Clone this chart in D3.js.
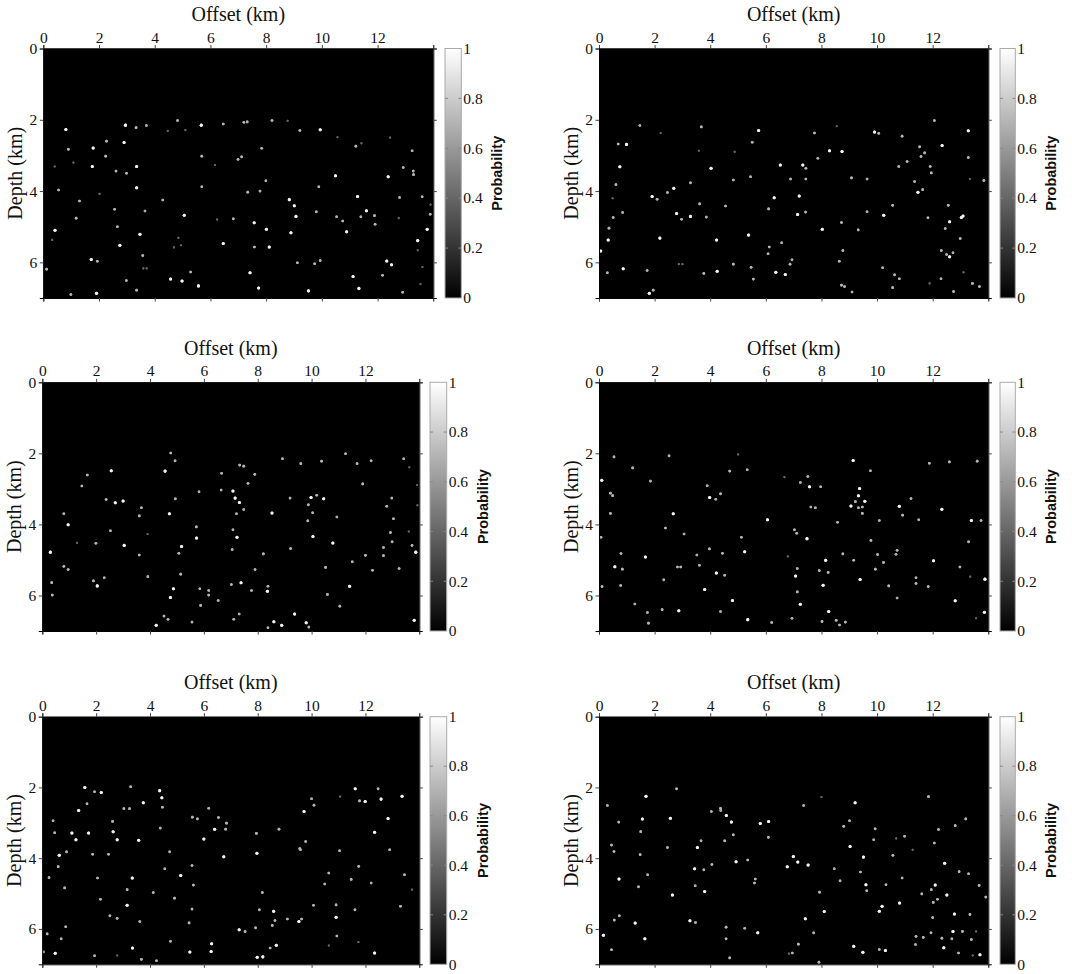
<!DOCTYPE html>
<html>
<head>
<meta charset="utf-8">
<script src="https://cdn.jsdelivr.net/npm/d3@7"></script>
<style>
  html, body { margin: 0; padding: 0; background: #fff; }
  svg { display: block; }
</style>
</head>
<body>
<div id="chart"></div>
<script>
// ---------------- DATA ----------------
const xTicks = [0, 2, 4, 6, 8, 10, 12];
const yTicks = [0, 2, 4, 6];
const cbTicks = [0, 0.2, 0.4, 0.6, 0.8, 1];
const xTitle = "Offset (km)";
const yTitle = "Depth (km)";
const cbTitle = "Probability";

// each dot: [offset km, depth km, probability]
const panel1Dots = [
[0.81,2.27,0.95],[2.95,2.15,0.95],[3.33,2.22,0.7],[3.70,2.16,0.7],[4.82,2.02,0.7],[5.67,2.15,0.95],[6.46,2.12,0.7],[7.20,2.07,0.7],[7.32,2.06,0.7],[8.21,2.02,0.7],[8.77,2.03,0.4],[9.21,2.30,0.7],[9.94,2.28,0.95],
[0.90,2.83,0.7],[1.79,2.79,0.95],[2.27,2.60,0.7],[2.90,2.64,0.95],[2.24,3.02,0.7],[1.76,3.31,0.95],[3.35,3.31,0.95],[2.61,3.44,0.7],[2.99,3.50,0.7],[3.35,3.91,0.95],[0.55,3.97,0.7],[2.02,4.08,0.4],[1.30,4.28,0.7],[1.18,4.76,0.7],[0.42,5.10,0.95],[2.56,4.51,0.7],[2.66,5.00,0.7],[3.65,4.56,0.7],[3.47,5.21,0.95],[2.75,5.52,0.95],[4.29,4.25,0.7],[5.06,4.68,0.95],[5.69,3.02,0.7],[5.69,3.88,0.7],[6.16,3.27,0.4],[6.99,3.11,0.7],[7.12,3.04,0.7],[7.84,2.80,0.7],[7.34,4.03,0.7],[7.78,4.00,0.7],[7.99,3.71,0.7],[6.46,5.47,0.95],[6.82,4.78,0.7],[6.24,4.80,0.4],[7.57,4.89,0.95],[8.01,5.07,0.95],[8.11,5.57,0.95],[7.58,5.57,0.7],[8.83,4.24,0.95],[9.01,4.41,0.95],[9.07,4.71,0.95],[8.89,5.17,0.95],[9.89,3.88,0.7],[9.80,4.58,0.7],[10.49,3.57,0.95],[10.53,4.72,0.7],[10.75,4.84,0.7],[10.89,5.14,0.95],[11.28,4.15,0.95],[11.60,4.55,0.95],[11.40,4.72,0.7],[11.89,4.69,0.7],[11.91,4.93,0.7],[12.38,3.60,0.95],[12.92,3.34,0.7],[13.28,3.44,0.7],[13.29,3.54,0.7],[13.24,2.87,0.7],[12.79,4.18,0.7],[13.60,4.16,0.7],[13.89,4.65,0.7],[13.78,5.07,0.95],[13.44,5.39,0.95],[12.76,4.76,0.4],[11.22,2.74,0.7],[11.42,2.66,0.4],[12.45,2.50,0.4],[10.56,2.49,0.4],
[1.72,5.92,0.95],[1.94,5.97,0.7],[0.12,6.19,0.7],[0.99,6.90,0.7],[1.91,6.87,0.95],[2.98,6.51,0.7],[3.35,6.78,0.7],[3.57,5.81,0.7],[4.57,6.47,0.95],[4.98,6.52,0.95],[5.29,6.27,0.7],[5.57,6.66,0.95],[7.42,6.29,0.95],[7.73,6.72,0.95],[9.12,6.01,0.7],[9.52,6.80,0.95],[9.74,6.04,0.7],[9.94,5.95,0.7],[11.12,6.40,0.95],[11.33,6.73,0.95],[12.18,6.36,0.7],[12.33,5.96,0.95],[12.50,6.07,0.95],[12.90,6.84,0.7],[13.54,6.61,0.4],[4.69,5.58,0.4],[4.94,5.52,0.4],[4.85,5.31,0.4],[5.10,2.29,0.4],[4.47,2.31,0.4],[0.41,3.31,0.4],[1.08,3.20,0.4],[13.44,5.66,0.4],[13.61,6.13,0.4],[13.90,4.38,0.4],[0.32,5.37,0.4],[3.59,6.17,0.4],[3.71,6.17,0.4]
];

const panel2Dots = [
[1.47,2.16,0.7],[2.22,2.37,0.4],[3.68,2.20,0.7],[5.74,2.30,0.95],[5.51,2.63,0.7],[0.69,2.68,0.7],[0.99,2.69,0.95],[3.59,2.87,0.4],[0.75,3.32,0.95],[0.61,3.82,0.7],[0.49,4.20,0.4],[0.51,4.74,0.7],[0.36,5.04,0.7],[0.33,5.37,0.95],[0.06,5.68,0.95],[0.30,6.29,0.7],[0.87,6.18,0.95],[0.85,4.60,0.7],[1.91,4.15,0.95],[2.09,4.23,0.7],[2.19,5.32,0.95],[2.46,4.04,0.7],[2.69,3.92,0.95],[2.79,4.63,0.95],[2.97,4.79,0.7],[3.29,4.71,0.95],[3.29,3.77,0.7],[3.62,4.36,0.7],[3.86,4.73,0.7],[4.03,3.36,0.95],[4.83,3.69,0.7],[4.55,4.42,0.7],[4.23,5.37,0.95],[4.25,6.25,0.95],[3.77,6.31,0.7],[4.83,6.05,0.7],[5.38,5.23,0.95],[5.45,3.60,0.7],[5.47,6.14,0.7],[5.55,6.47,0.7],[6.30,4.19,0.95],[6.10,4.50,0.7],[6.12,5.57,0.7],[6.08,5.76,0.7],[6.52,3.27,0.95],[6.57,5.45,0.7],[6.36,6.28,0.95],[6.70,6.34,0.95],[6.89,3.66,0.7],[6.94,5.93,0.7],[6.87,6.05,0.7],[7.14,4.66,0.95],[7.20,4.14,0.95],[7.33,3.27,0.95],[7.44,3.36,0.7],[7.44,3.66,0.7],[7.43,4.59,0.7],[7.75,2.37,0.7],[7.87,3.08,0.7],[8.03,5.07,0.95],[8.29,2.87,0.95],[8.74,2.89,0.95],[9.08,3.63,0.7],[8.72,4.88,0.7],[8.77,5.67,0.7],[8.64,5.97,0.7],[8.72,6.64,0.7],[8.83,6.68,0.7],[9.10,6.83,0.7],[9.32,5.09,0.7],[9.64,3.66,0.7],[9.64,4.58,0.7],[9.91,2.34,0.95],[10.06,2.38,0.7],[10.24,4.68,0.95],[10.20,6.15,0.7],[10.56,4.40,0.7],[10.63,6.35,0.7],[10.80,6.46,0.7],[10.56,6.71,0.7],[10.78,3.31,0.7],[10.90,2.46,0.7],[11.08,3.17,0.7],[11.35,3.73,0.7],[11.47,4.03,0.95],[11.64,3.96,0.7],[11.53,2.76,0.7],[11.58,3.03,0.7],[11.71,2.93,0.7],[11.91,3.31,0.7],[11.95,3.49,0.7],[11.83,4.75,0.7],[12.06,2.02,0.7],[12.34,2.72,0.95],[12.56,4.40,0.7],[12.61,4.86,0.95],[12.45,5.05,0.7],[12.31,5.67,0.7],[12.50,5.78,0.7],[12.61,5.84,0.95],[12.73,5.73,0.7],[12.99,5.33,0.7],[13.03,4.74,0.95],[13.09,4.70,0.95],[13.28,2.31,0.95],[13.28,3.06,0.7],[13.34,3.66,0.4],[13.84,3.70,0.7],[13.43,6.59,0.7],[13.68,6.68,0.7],[12.75,6.82,0.7],[12.30,6.46,0.7],[11.89,6.59,0.4],[1.95,6.78,0.7],[1.81,6.87,0.95],[1.73,6.23,0.7],[2.87,6.05,0.4],[3.00,6.05,0.4],[8.55,2.18,0.4],[4.88,2.90,0.4],[13.11,6.28,0.4]
];

const panel3Dots = [
[4.77,1.99,0.7],[4.93,2.21,0.7],[2.56,2.49,0.95],[1.67,2.61,0.7],[1.47,2.92,0.7],[4.56,2.50,0.95],[6.66,2.56,0.7],[7.33,2.33,0.7],[7.48,2.36,0.7],[7.89,2.59,0.7],[7.64,2.84,0.7],[8.92,2.15,0.7],[9.60,2.29,0.7],[10.37,2.22,0.7],[11.26,2.01,0.7],[11.69,2.29,0.7],[12.21,2.21,0.7],[11.90,2.86,0.7],[13.42,2.15,0.7],[13.63,2.39,0.4],[13.92,2.89,0.4],[2.37,3.30,0.7],[2.71,3.39,0.95],[3.00,3.34,0.95],[3.68,3.53,0.7],[3.60,3.76,0.7],[2.53,4.18,0.7],[0.80,3.70,0.7],[0.96,4.01,0.95],[1.99,4.53,0.7],[3.04,4.59,0.95],[3.60,4.86,0.7],[0.30,4.78,0.95],[0.80,5.18,0.7],[0.96,5.27,0.7],[0.35,5.64,0.7],[0.37,5.99,0.7],[1.90,5.59,0.7],[2.04,5.73,0.95],[2.30,5.50,0.7],[3.92,5.47,0.7],[4.94,3.28,0.7],[4.72,3.70,0.95],[5.82,3.08,0.7],[5.72,4.07,0.7],[5.73,4.38,0.95],[5.17,4.62,0.95],[5.07,4.81,0.7],[5.14,5.40,0.7],[4.87,5.81,0.95],[4.76,6.06,0.95],[5.85,5.81,0.7],[6.18,5.86,0.7],[6.18,5.99,0.7],[5.88,6.28,0.7],[6.53,6.14,0.7],[6.64,3.03,0.7],[7.08,3.06,0.95],[7.16,3.26,0.95],[7.32,3.38,0.95],[7.21,3.70,0.7],[7.48,3.58,0.7],[7.08,4.15,0.7],[7.23,4.36,0.95],[7.05,4.71,0.7],[7.38,5.64,0.95],[7.02,5.69,0.7],[7.77,5.86,0.7],[7.90,5.27,0.7],[8.21,4.83,0.7],[8.53,3.68,0.95],[8.38,5.74,0.7],[8.36,5.88,0.95],[9.20,3.26,0.7],[9.22,4.68,0.7],[9.98,3.24,0.95],[10.19,3.18,0.7],[10.45,3.28,0.95],[9.88,3.45,0.7],[10.04,3.67,0.7],[9.86,3.90,0.7],[10.05,4.34,0.95],[10.79,4.52,0.95],[10.94,3.79,0.7],[10.52,5.21,0.7],[11.51,5.05,0.7],[12.00,4.87,0.7],[12.26,5.29,0.7],[11.41,5.74,0.95],[10.59,5.97,0.7],[11.05,6.30,0.7],[12.79,3.49,0.7],[12.98,3.26,0.7],[13.04,3.84,0.7],[12.93,4.23,0.7],[12.99,4.49,0.7],[12.67,4.65,0.7],[12.67,4.88,0.7],[13.25,5.24,0.7],[13.73,4.59,0.7],[13.87,4.78,0.95],[13.81,6.70,0.95],[9.80,6.77,0.95],[9.90,6.89,0.7],[9.37,6.52,0.95],[8.89,6.84,0.95],[8.60,6.74,0.95],[8.38,6.91,0.7],[7.31,6.52,0.7],[7.11,6.67,0.7],[5.56,6.75,0.7],[4.52,6.58,0.7],[4.67,6.67,0.7],[4.23,6.84,0.95],[13.93,3.46,0.4],[13.61,4.20,0.4],[3.91,4.27,0.4],[1.29,4.52,0.4]
];

const panel4Dots = [
[0.10,2.76,0.95],[0.54,2.10,0.7],[0.41,3.12,0.7],[0.49,3.19,0.7],[0.41,3.69,0.7],[0.07,4.36,0.7],[0.79,4.82,0.7],[0.57,5.19,0.95],[0.84,5.26,0.7],[0.11,5.75,0.7],[0.78,5.72,0.7],[1.21,2.41,0.7],[1.85,2.78,0.7],[2.52,2.07,0.7],[2.67,3.70,0.95],[2.39,4.10,0.7],[3.06,4.27,0.7],[1.67,4.92,0.95],[2.82,5.20,0.7],[2.94,5.20,0.7],[2.33,5.56,0.7],[1.29,6.24,0.7],[1.74,6.48,0.7],[1.78,6.78,0.7],[2.27,6.40,0.7],[2.87,6.43,0.95],[3.89,2.91,0.7],[3.98,3.24,0.95],[4.20,3.29,0.7],[4.37,3.14,0.7],[4.70,2.50,0.7],[5.33,2.46,0.7],[5.00,2.03,0.4],[3.52,4.86,0.7],[3.61,5.15,0.7],[3.97,4.69,0.7],[4.44,4.81,0.7],[4.22,5.37,0.95],[4.52,5.43,0.7],[3.80,5.83,0.95],[4.80,6.14,0.95],[4.37,6.45,0.7],[5.35,6.68,0.95],[5.12,4.36,0.7],[5.24,4.77,0.95],[6.06,3.87,0.95],[6.21,6.76,0.7],[6.94,6.64,0.7],[7.03,4.15,0.7],[7.11,4.25,0.7],[7.48,4.40,0.95],[7.13,5.24,0.7],[7.07,5.45,0.95],[7.13,5.90,0.7],[7.24,6.25,0.95],[7.24,2.82,0.7],[7.51,2.65,0.7],[7.57,2.94,0.95],[7.62,3.51,0.7],[7.78,3.53,0.7],[7.97,2.94,0.7],[8.15,5.01,0.95],[7.92,5.30,0.7],[8.24,5.35,0.7],[8.06,5.71,0.95],[8.26,6.45,0.95],[8.02,6.73,0.7],[8.53,6.70,0.7],[8.65,6.83,0.7],[8.86,6.75,0.7],[8.58,3.94,0.7],[8.77,4.83,0.7],[9.14,2.20,0.95],[9.06,3.48,0.95],[9.22,3.36,0.7],[9.33,3.19,0.95],[9.37,2.99,0.95],[9.33,3.53,0.7],[9.47,3.51,0.7],[9.56,3.35,0.95],[9.47,3.69,0.7],[9.16,5.01,0.7],[9.39,5.55,0.95],[9.76,2.49,0.7],[9.78,4.45,0.7],[9.94,5.26,0.7],[10.02,4.85,0.7],[10.08,3.89,0.7],[10.23,5.07,0.7],[10.80,3.49,0.95],[10.92,3.74,0.7],[10.68,4.84,0.7],[10.72,4.73,0.7],[10.42,5.73,0.7],[10.72,6.07,0.7],[11.22,3.27,0.7],[11.50,3.87,0.7],[11.40,5.50,0.7],[11.40,5.66,0.7],[11.84,5.75,0.7],[11.88,2.28,0.7],[12.33,3.57,0.95],[12.03,5.02,0.95],[12.60,2.24,0.7],[12.98,5.20,0.7],[12.81,6.15,0.95],[13.29,4.49,0.7],[13.39,3.89,0.95],[13.74,3.89,0.7],[13.60,2.22,0.7],[13.88,5.54,0.95],[13.86,6.47,0.95],[13.56,6.64,0.4],[13.35,5.47,0.4],[6.79,4.90,0.4],[6.67,2.67,0.4]
];

const panel5Dots = [
[1.58,2.00,0.95],[1.94,2.12,0.7],[2.19,2.14,0.95],[3.28,1.98,0.7],[4.36,2.09,0.95],[4.44,2.29,0.95],[4.46,2.56,0.7],[3.75,2.43,0.95],[1.66,2.46,0.7],[1.35,2.65,0.95],[3.03,2.60,0.7],[3.24,2.60,0.7],[2.61,2.96,0.7],[2.63,3.25,0.95],[2.78,3.48,0.95],[1.10,3.29,0.95],[1.25,3.48,0.95],[1.72,3.29,0.95],[0.46,3.28,0.7],[0.40,2.94,0.7],[0.63,3.92,0.95],[0.59,4.24,0.7],[0.25,4.55,0.7],[0.90,3.82,0.7],[0.83,4.84,0.7],[1.87,3.89,0.7],[2.46,3.89,0.7],[2.05,4.56,0.7],[2.16,5.16,0.7],[3.58,3.49,0.95],[3.34,4.56,0.95],[3.15,4.89,0.7],[3.15,5.33,0.95],[2.51,5.63,0.7],[2.78,5.70,0.7],[3.62,5.79,0.7],[0.87,5.94,0.7],[0.18,6.14,0.7],[0.70,6.28,0.7],[0.48,6.69,0.95],[0.04,6.65,0.7],[1.94,6.76,0.7],[2.78,6.75,0.4],[3.35,6.54,0.95],[3.68,6.86,0.7],[4.24,6.90,0.7],[4.12,4.97,0.7],[4.38,3.15,0.7],[4.55,4.30,0.7],[4.73,3.82,0.7],[4.91,5.13,0.7],[5.14,4.49,0.95],[4.76,6.35,0.7],[5.48,6.65,0.95],[5.45,5.83,0.7],[5.56,5.44,0.7],[5.61,4.76,0.7],[5.56,4.21,0.7],[6.00,3.46,0.95],[5.57,2.84,0.7],[5.76,2.89,0.7],[6.18,2.59,0.7],[6.40,3.18,0.95],[6.54,2.85,0.7],[6.84,3.01,0.7],[6.81,3.18,0.7],[6.74,3.96,0.95],[6.29,6.42,0.95],[6.27,6.64,0.95],[7.31,6.02,0.95],[7.53,6.07,0.7],[7.95,3.30,0.7],[7.97,3.86,0.95],[8.06,5.46,0.7],[8.17,4.97,0.7],[7.92,5.97,0.7],[7.98,6.80,0.95],[8.19,6.79,0.95],[8.59,5.50,0.95],[8.54,5.90,0.7],[8.64,5.76,0.7],[8.46,6.54,0.7],[8.69,6.46,0.95],[8.79,3.18,0.7],[9.10,5.72,0.7],[9.53,5.79,0.95],[9.63,5.72,0.7],[9.56,3.73,0.7],[9.59,3.76,0.7],[9.78,3.53,0.7],[9.72,2.68,0.95],[10.00,2.32,0.7],[10.09,2.50,0.7],[10.07,5.33,0.7],[10.49,4.73,0.7],[10.64,4.42,0.7],[10.91,5.32,0.7],[10.91,5.67,0.95],[10.94,6.20,0.7],[11.04,3.79,0.7],[11.06,2.26,0.4],[11.62,2.04,0.95],[11.78,2.38,0.7],[11.99,2.40,0.95],[11.75,4.23,0.7],[11.47,4.60,0.7],[11.61,5.46,0.7],[12.47,2.04,0.7],[12.58,2.33,0.95],[12.34,3.27,0.95],[12.84,2.88,0.95],[12.90,3.76,0.7],[13.36,2.25,0.95],[13.45,4.47,0.7],[12.21,4.70,0.7],[13.30,5.36,0.7],[12.34,6.68,0.95],[13.73,4.89,0.4],[11.74,6.37,0.4],[10.64,6.47,0.4]
];

const panel6Dots = [
[0.30,2.51,0.7],[0.45,3.63,0.7],[0.54,3.81,0.7],[0.71,2.98,0.7],[0.16,6.18,0.95],[0.45,6.59,0.7],[0.55,5.75,0.7],[0.73,5.63,0.7],[0.72,4.59,0.95],[1.30,5.83,0.95],[1.65,6.28,0.95],[1.42,4.81,0.7],[1.48,3.90,0.7],[1.50,3.25,0.7],[1.56,2.89,0.95],[1.69,2.25,0.95],[1.75,4.47,0.7],[2.79,2.04,0.7],[2.57,2.87,0.95],[2.46,3.70,0.7],[2.64,5.04,0.95],[3.27,5.77,0.95],[3.47,5.82,0.7],[3.44,4.30,0.95],[3.46,4.78,0.7],[3.54,3.70,0.95],[3.67,3.51,0.7],[3.77,4.33,0.7],[3.80,4.94,0.95],[4.04,2.68,0.7],[4.06,4.18,0.7],[4.37,2.59,0.7],[4.38,2.65,0.7],[4.58,2.79,0.95],[4.76,2.98,0.95],[4.83,3.34,0.7],[4.52,3.51,0.7],[4.93,4.10,0.95],[5.35,4.05,0.7],[4.57,5.95,0.7],[4.57,6.28,0.7],[4.70,6.82,0.7],[5.24,5.98,0.7],[5.71,6.11,0.95],[5.62,4.59,0.7],[5.59,4.70,0.7],[5.80,3.02,0.95],[6.10,2.96,0.95],[6.09,3.41,0.7],[6.77,4.24,0.95],[6.99,3.95,0.95],[7.15,4.11,0.95],[7.52,4.19,0.95],[7.36,2.51,0.7],[7.42,5.71,0.95],[7.72,6.11,0.7],[7.17,6.43,0.7],[6.95,6.68,0.7],[6.83,6.70,0.4],[7.91,6.94,0.7],[7.93,4.96,0.7],[8.10,5.51,0.95],[8.00,2.27,0.4],[8.46,4.30,0.7],[8.67,4.64,0.7],[8.80,3.10,0.7],[9.01,2.94,0.7],[9.03,3.67,0.95],[9.21,2.43,0.95],[9.40,4.39,0.7],[9.51,3.97,0.95],[9.60,4.75,0.95],[9.63,4.92,0.7],[9.16,6.49,0.95],[9.49,6.66,0.95],[10.08,6.58,0.7],[10.30,6.61,0.95],[9.93,3.17,0.7],[9.88,3.48,0.7],[10.08,5.50,0.95],[10.18,5.36,0.95],[10.32,4.75,0.7],[10.57,3.92,0.7],[10.81,5.27,0.95],[10.90,4.56,0.7],[10.99,3.38,0.7],[10.69,3.44,0.4],[11.61,5.01,0.7],[11.40,6.21,0.7],[11.38,6.44,0.7],[11.66,6.24,0.7],[11.85,2.26,0.7],[11.95,4.89,0.7],[12.09,4.76,0.95],[12.02,5.25,0.7],[12.00,5.68,0.7],[11.94,6.11,0.7],[12.06,3.57,0.7],[12.21,3.19,0.7],[12.43,4.14,0.95],[12.17,5.16,0.7],[12.51,5.04,0.95],[12.33,6.26,0.7],[12.40,6.53,0.95],[12.69,6.28,0.7],[12.73,6.07,0.95],[12.78,5.58,0.95],[12.81,3.08,0.7],[12.95,4.38,0.7],[13.19,2.89,0.7],[13.29,4.44,0.7],[13.34,5.59,0.7],[13.07,6.07,0.7],[13.39,6.30,0.7],[12.93,6.68,0.7],[13.44,6.75,0.4],[13.70,6.73,0.95],[13.67,4.77,0.7],[13.91,5.10,0.7],[13.56,6.07,0.4],[11.28,3.76,0.4]
];

// ---------------- LAYOUT ----------------
const W = 1072, H = 974;
const panels = [
  { left: 43.3, right: 433.3, top: 48.5, bottom: 298,   cbL: 445,   cbR: 461.3,  dots: panel1Dots },
  { left: 599,  right: 988.3, top: 48.5, bottom: 298,   cbL: 1000,  cbR: 1015.3, dots: panel2Dots },
  { left: 42.3, right: 419.3, top: 382.3, bottom: 631,  cbL: 430,   cbR: 446.7,  dots: panel3Dots },
  { left: 599,  right: 988.3, top: 382.3, bottom: 631,  cbL: 1000,  cbR: 1015.3, dots: panel4Dots },
  { left: 42.3, right: 419.3, top: 716.7, bottom: 964.3, cbL: 430,  cbR: 446.7,  dots: panel5Dots },
  { left: 599,  right: 988.3, top: 716.7, bottom: 964.3, cbL: 1000, cbR: 1015.3, dots: panel6Dots }
];

const serif = "Liberation Serif, Times New Roman, serif";
const sans = "Liberation Sans, Arial, sans-serif";
const tickFont = 15.5;

const svg = d3.select("#chart").append("svg")
  .attr("width", W).attr("height", H)
  .attr("viewBox", `0 0 ${W} ${H}`);

const defs = svg.append("defs");
const grad = defs.append("linearGradient")
  .attr("id", "grayGrad")
  .attr("x1", 0).attr("y1", 1).attr("x2", 0).attr("y2", 0);
grad.append("stop").attr("offset", "0%").attr("stop-color", "#000");
grad.append("stop").attr("offset", "100%").attr("stop-color", "#fff");

const glow = defs.append("filter").attr("id", "glow")
  .attr("x", "-100%").attr("y", "-100%").attr("width", "300%").attr("height", "300%");
glow.append("feGaussianBlur").attr("stdDeviation", 0.6).attr("result", "b");
const mrg = glow.append("feMerge");
mrg.append("feMergeNode").attr("in", "b");
mrg.append("feMergeNode").attr("in", "SourceGraphic");

const color = d3.scaleLinear().domain([0, 1]).range(["#000000", "#ffffff"]);

panels.forEach((p, i) => {
  const x = d3.scaleLinear().domain([0, 14]).range([p.left, p.right]);
  const y = d3.scaleLinear().domain([0, 7]).range([p.top, p.bottom]);
  const g = svg.append("g").attr("class", "panel" + (i + 1));

  const clipId = "clip" + i;
  defs.append("clipPath").attr("id", clipId)
    .append("rect")
    .attr("x", p.left).attr("y", p.top)
    .attr("width", p.right - p.left).attr("height", p.bottom - p.top);

  // image background (probability 0)
  g.append("rect")
    .attr("x", p.left).attr("y", p.top)
    .attr("width", p.right - p.left).attr("height", p.bottom - p.top)
    .attr("fill", color(0));

  // dots
  g.append("g").attr("clip-path", `url(#${clipId})`)
    .append("g").attr("filter", "url(#glow)")
    .selectAll("circle").data(p.dots).enter().append("circle")
    .attr("cx", d => x(d[0]))
    .attr("cy", d => y(d[1]))
    .attr("r", d => 0.75 + 0.8 * d[2])
    .attr("fill", d => color(d[2]));

  // axes
  const styleAxis = (sel) => {
    sel.attr("font-family", serif).attr("font-size", tickFont);
    sel.selectAll(".domain").attr("stroke", "#000");
    sel.selectAll(".tick line").attr("stroke", "#444");
    sel.selectAll(".tick text").attr("fill", "#111");
  };

  g.append("g").attr("transform", `translate(0,${p.top})`)
    .call(d3.axisTop(x).tickValues(xTicks).tickSize(3.5).tickPadding(2.5).tickFormat(d3.format("d")))
    .call(styleAxis);
  g.append("g").attr("transform", `translate(0,${p.bottom})`)
    .call(d3.axisBottom(x).tickValues(xTicks).tickSize(3.5).tickFormat(""))
    .call(styleAxis);
  g.append("g").attr("transform", `translate(${p.left},0)`)
    .call(d3.axisLeft(y).tickValues(yTicks).tickSize(3.5).tickPadding(2.5).tickFormat(d3.format("d")))
    .call(styleAxis);
  g.append("g").attr("transform", `translate(${p.right},0)`)
    .call(d3.axisRight(y).tickValues(yTicks).tickSize(3.5).tickFormat(""))
    .call(styleAxis);

  // titles
  g.append("text")
    .attr("x", (p.left + p.right) / 2)
    .attr("y", p.top - 27.5)
    .attr("text-anchor", "middle")
    .attr("font-family", serif).attr("font-size", 20)
    .attr("fill", "#111")
    .text(xTitle);

  g.append("text")
    .attr("transform", `translate(${p.left - 21},${(p.top + p.bottom) / 2}) rotate(-90)`)
    .attr("text-anchor", "middle")
    .attr("font-family", serif).attr("font-size", 20)
    .attr("fill", "#111")
    .text(yTitle);

  // colorbar
  const cy = d3.scaleLinear().domain([0, 1]).range([p.bottom, p.top]);
  g.append("rect")
    .attr("x", p.cbL).attr("y", p.top)
    .attr("width", p.cbR - p.cbL).attr("height", p.bottom - p.top)
    .attr("fill", "url(#grayGrad)")
    .attr("stroke", "#aaa").attr("stroke-width", 1);

  const cb = g.append("g");
  const inner = cbTicks.slice(1, -1);
  cb.selectAll("line.cbr").data(inner).enter().append("line")
    .attr("class", "cbr")
    .attr("x1", p.cbR - 3).attr("x2", p.cbR)
    .attr("y1", d => cy(d)).attr("y2", d => cy(d))
    .attr("stroke", "#888").attr("stroke-width", 1);
  cb.selectAll("line.cbl").data(inner).enter().append("line")
    .attr("class", "cbl")
    .attr("x1", p.cbL).attr("x2", p.cbL + 3)
    .attr("y1", d => cy(d)).attr("y2", d => cy(d))
    .attr("stroke", "#888").attr("stroke-width", 1);
  cb.selectAll("text").data(cbTicks).enter().append("text")
    .attr("x", p.cbR + 2)
    .attr("y", d => cy(d))
    .attr("dy", "0.34em")
    .attr("font-family", serif).attr("font-size", tickFont)
    .attr("fill", "#111")
    .text(d => d3.format("~g")(d));

  g.append("text")
    .attr("transform", `translate(${p.cbR + 41},${(p.top + p.bottom) / 2}) rotate(-90)`)
    .attr("text-anchor", "middle")
    .attr("font-family", sans).attr("font-size", 14.5).attr("font-weight", "bold")
    .attr("fill", "#111")
    .text(cbTitle);
});
</script>
</body>
</html>
